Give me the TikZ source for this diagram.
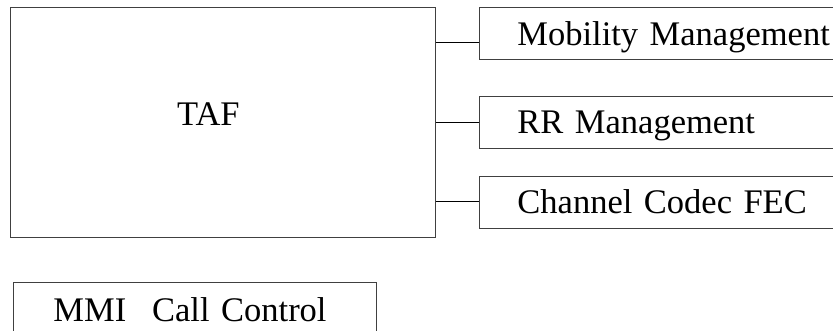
\documentclass[tikz,border=0pt]{standalone}
\usepackage{fontspec}
\setmainfont{Liberation Serif}
\usetikzlibrary{positioning}

\tikzset{
  blk/.style={draw=black!75,line width=0.9pt,inner sep=0pt},
  lbl/.style={font=\fontsize{34.5}{40}\selectfont,text height=22.6pt,text depth=0pt,inner sep=0pt},
  side/.style={blk,lbl,anchor=west,align=left,text width=400pt,inner xsep=38pt,minimum height=52pt},
  wire/.style={draw=black,line width=0.9pt}
}

\begin{document}
\begin{tikzpicture}[x=1pt,y=-1pt]
\useasboundingbox (0,0) rectangle (833,331);
\clip (0,0) rectangle (833,331);

% main block
\node[blk,anchor=north west,minimum width=425pt,minimum height=229.5pt] (taf) at (10,7.3) {};
\node[lbl] (taflbl) at (208.4,113.8) {TAF};

% blocks on the right
\node[side] (mm) at (479,33.8) {Mobility Management};
\node[side] (rr) at (479,122) {RR Management};
\node[side] (fec) at (479,202.2) {Channel Codec FEC};

\draw[wire] (taf.east |- 0,42.7) -- (mm.west |- 0,42.7);
\draw[wire] (taf.east |- rr.west) -- (rr.west);
\draw[wire] (taf.east |- 0,201.5) -- (fec.west |- 0,201.5);

% lower block
\node[blk,lbl,anchor=north west,align=left,text width=283pt,inner xsep=39.7pt,inner ysep=16pt] (mmi) at (13.3,282.3) {MMI\hspace{0.75em}Call Control};

\end{tikzpicture}
\end{document}
